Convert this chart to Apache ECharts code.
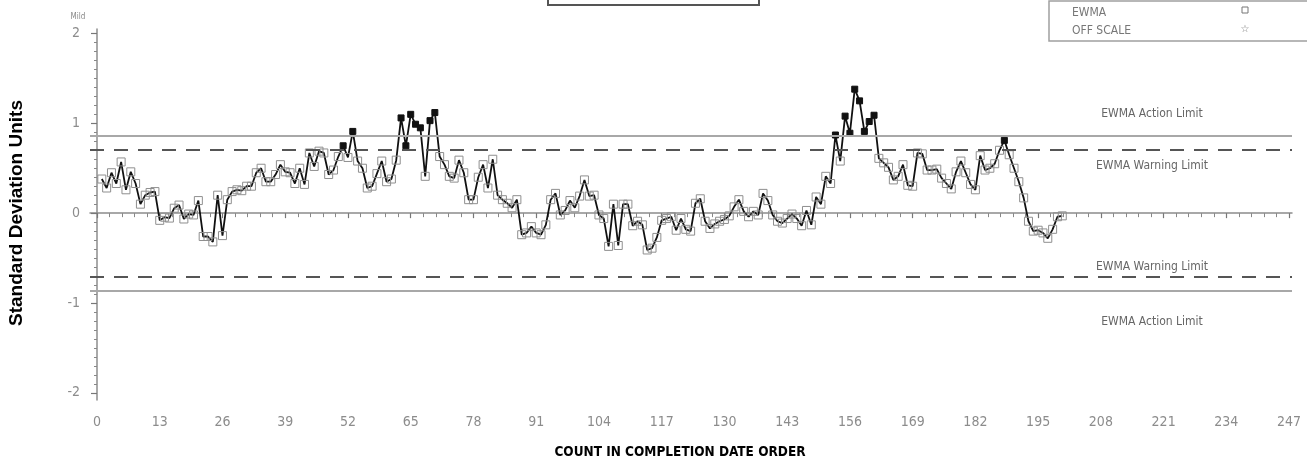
<!DOCTYPE html>
<html>
<head>
<meta charset="utf-8">
<script src="https://cdn.jsdelivr.net/npm/echarts@6/dist/echarts.min.js"></script>
<style>
  html, body { margin: 0; padding: 0; background: #fff; }
  #chart { width: 1307px; height: 465px; }
</style>
</head>
<body>
<div id="chart"></div>
<script>
// EWMA chart: standard deviation units by count in completion date order
const counts = [];
for (let i = 1; i <= 200; i++) counts.push(i);

const ewma = [
  0.38, 0.28, 0.45, 0.33, 0.57, 0.26, 0.46, 0.33, 0.10, 0.20,
  0.23, 0.24, -0.08, -0.045, -0.055, 0.055, 0.09, -0.065, -0.01, -0.02,
  0.14, -0.26, -0.26, -0.32, 0.20, -0.25, 0.15, 0.24, 0.26, 0.25,
  0.30, 0.30, 0.45, 0.50, 0.35, 0.35, 0.43, 0.54, 0.46, 0.45,
  0.33, 0.50, 0.32, 0.67, 0.52, 0.69, 0.67, 0.43, 0.48, 0.63,
  0.75, 0.62, 0.91, 0.58, 0.50, 0.28, 0.30, 0.44, 0.58, 0.35,
  0.38, 0.59, 1.06, 0.75, 1.10, 0.99, 0.95, 0.41, 1.03, 1.12,
  0.63, 0.54, 0.41, 0.39, 0.59, 0.45, 0.15, 0.15, 0.40, 0.54,
  0.28, 0.60, 0.20, 0.15, 0.11, 0.06, 0.15, -0.24, -0.22, -0.15,
  -0.22, -0.24, -0.13, 0.15, 0.22, -0.02, 0.03, 0.14, 0.06, 0.19,
  0.37, 0.19, 0.20, -0.02, -0.06, -0.37, 0.10, -0.36, 0.10, 0.10,
  -0.14, -0.09, -0.13, -0.41, -0.39, -0.27, -0.08, -0.06, -0.04, -0.19,
  -0.06, -0.18, -0.20, 0.11, 0.16, -0.09, -0.17, -0.12, -0.09, -0.07,
  -0.03, 0.07, 0.15, 0.02, -0.04, 0.02, -0.02, 0.22, 0.14, -0.02,
  -0.09, -0.11, -0.06, -0.01, -0.06, -0.14, 0.03, -0.13, 0.18, 0.10,
  0.41, 0.33, 0.87, 0.58, 1.08, 0.89, 1.38, 1.25, 0.91, 1.02,
  1.09, 0.61, 0.56, 0.51, 0.37, 0.41, 0.54, 0.31, 0.30, 0.67,
  0.66, 0.48, 0.48, 0.49, 0.39, 0.33, 0.27, 0.46, 0.58, 0.45,
  0.32, 0.26, 0.64, 0.48, 0.50, 0.55, 0.70, 0.81, 0.65, 0.50,
  0.35, 0.17, -0.09, -0.20, -0.19, -0.22, -0.28, -0.18, -0.04, -0.03
];

const actionLimit = 0.865;
const warningLimit = 0.71;

const xTickLabels = [0, 13, 26, 39, 52, 65, 78, 91, 104, 117, 130, 143, 156, 169, 182, 195, 208, 221, 234, 247];
const yTickLabels = [-2, -1, 0, 1, 2];

const xMin = -1.45, xMax = 247.6;
const yMin = -2.08, yMax = 2.05;

// minor ticks: five steps between x labels, tenths on the y axis
const xMinor = [];
for (let k = 0; k < xTickLabels.length - 1; k++) {
  for (let s = 1; s < 5; s++) xMinor.push(xTickLabels[k] + s * 13 / 5);
}
const yMinor = [];
for (let k = -20; k <= 20; k++) if (k % 10 !== 0) yMinor.push(k / 10);

const thinFont = "'Liberation Sans Narrow', 'DejaVu Sans Condensed', 'Liberation Sans', sans-serif";
const tickGray = '#8c8c8c';

const points = counts.map((c, i) => {
  const v = ewma[i];
  const item = { value: [c, v] };
  if (Math.abs(v) > warningLimit) {
    item.symbolSize = 6;
    item.itemStyle = { color: '#111', borderColor: '#111', borderWidth: 1 };
  }
  return item;
});

const chart = echarts.init(document.getElementById('chart'), null, { renderer: 'canvas' });

const option = {
  animation: false,
  backgroundColor: '#fff',
  grid: { left: 90, right: 15, top: 29, height: 371 },
  xAxis: [
    {
      type: 'value', min: xMin, max: xMax, position: 'bottom',
      splitLine: { show: false },
      axisLine: { show: true, lineStyle: { color: '#8c8c8c', width: 1.5 } },
      axisTick: { show: true, customValues: xTickLabels, length: 5, lineStyle: { color: '#777', width: 1.2 } },
      axisLabel: {
        show: true, customValues: xTickLabels, margin: 15,
        color: tickGray, fontSize: 14, fontFamily: thinFont
      }
    },
    {
      type: 'value', min: xMin, max: xMax, position: 'bottom',
      splitLine: { show: false },
      axisLine: { show: false },
      axisTick: { show: true, customValues: xMinor, length: 4, lineStyle: { color: '#888', width: 1 } },
      axisLabel: { show: false }
    }
  ],
  yAxis: [
    {
      type: 'value', min: yMin, max: yMax, position: 'left',
      splitLine: { show: false },
      axisLine: { show: true, lineStyle: { color: '#8c8c8c', width: 1.5 } },
      axisTick: { show: true, customValues: yTickLabels, length: 6, lineStyle: { color: '#777', width: 1.2 } },
      axisLabel: {
        show: true, customValues: yTickLabels, margin: 10,
        color: tickGray, fontSize: 14, fontFamily: thinFont,
        formatter: v => String(v)
      }
    },
    {
      type: 'value', min: yMin, max: yMax, position: 'left',
      splitLine: { show: false },
      axisLine: { show: false },
      axisTick: { show: true, customValues: yMinor, length: 3, lineStyle: { color: '#888', width: 1 } },
      axisLabel: { show: false }
    }
  ],
  series: [
    {
      name: 'limits',
      type: 'line',
      data: [],
      silent: true,
      z: 1,
      markLine: {
        silent: true,
        symbol: 'none',
        label: { show: false },
        animation: false,
        data: [
          { yAxis: actionLimit, lineStyle: { color: '#a8a8a8', width: 2, type: 'solid' } },
          { yAxis: -actionLimit, lineStyle: { color: '#a8a8a8', width: 2, type: 'solid' } },
          { yAxis: warningLimit, lineStyle: { color: '#555', width: 2, type: [14, 10] } },
          { yAxis: -warningLimit, lineStyle: { color: '#555', width: 2, type: [14, 10] } }
        ]
      }
    },
    {
      name: 'EWMA',
      type: 'line',
      z: 3,
      data: points,
      symbol: 'rect',
      symbolSize: 8,
      showAllSymbol: true,
      lineStyle: { color: '#111', width: 1.8 },
      itemStyle: { color: 'rgba(255,255,255,0)', borderColor: '#8f8f8f', borderWidth: 1 }
    }
  ]
};

chart.setOption(option);

// Text and frames drawn around the plot area
const yPix = v => chart.convertToPixel({ yAxisIndex: 0 }, v);
const limitText = (text, y) => ({
  type: 'text', x: 1152, y: y,
  style: { text: text, fill: '#666', font: '12px ' + thinFont, align: 'center', verticalAlign: 'middle' }
});

chart.setOption({
  graphic: [
    // title frame above the plot
    { type: 'rect', shape: { x: 548, y: -20, width: 211, height: 25 },
      style: { fill: '#fff', stroke: '#555', lineWidth: 2 } },
    // legend frame
    { type: 'rect', shape: { x: 1049, y: 1, width: 262, height: 40 },
      style: { fill: '#fff', stroke: '#a0a0a0', lineWidth: 1.5 } },
    { type: 'text', x: 1072, y: 13,
      style: { text: 'EWMA', fill: '#777', font: '12px ' + thinFont, verticalAlign: 'middle' } },
    { type: 'text', x: 1072, y: 31,
      style: { text: 'OFF SCALE', fill: '#777', font: '12px ' + thinFont, verticalAlign: 'middle' } },
    { type: 'rect', shape: { x: 1242, y: 7, width: 6, height: 6 },
      style: { fill: 'none', stroke: '#777', lineWidth: 1 } },
    { type: 'text', x: 1245, y: 29,
      style: { text: '\u2606', fill: '#777', font: '10px DejaVu Sans', align: 'center', verticalAlign: 'middle' } },
    // small tag above the y axis
    { type: 'text', x: 78, y: 17,
      style: { text: 'Mild', fill: '#888', font: '8px ' + thinFont, align: 'center', verticalAlign: 'middle' } },
    // limit labels
    limitText('EWMA Action Limit', yPix(actionLimit) - 22),
    limitText('EWMA Warning Limit', yPix(warningLimit) + 17),
    limitText('EWMA Warning Limit', yPix(-warningLimit) - 10),
    limitText('EWMA Action Limit', yPix(-actionLimit) + 31),
    // axis titles
    { type: 'text', x: 680, y: 452,
      style: { text: 'COUNT IN COMPLETION DATE ORDER', fill: '#000',
        font: 'bold 13.5px ' + thinFont, align: 'center', verticalAlign: 'middle' } },
    { type: 'text', x: 17, y: 213, rotation: Math.PI / 2,
      style: { text: 'Standard Deviation Units', fill: '#000',
        font: 'bold 19px Liberation Sans, Arial, sans-serif', align: 'center', verticalAlign: 'middle' } }
  ]
});
</script>
</body>
</html>
